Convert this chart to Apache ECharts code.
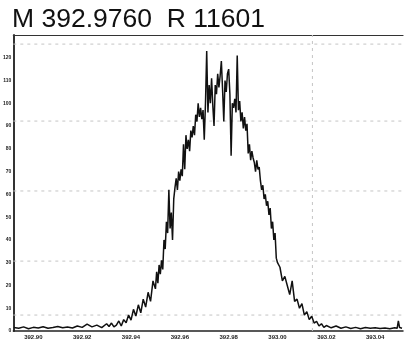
<!DOCTYPE html>
<html>
<head>
<meta charset="utf-8">
<script src="https://cdn.jsdelivr.net/npm/echarts@6/dist/echarts.min.js"></script>
<style>
  html, body { margin: 0; padding: 0; background: #fff; }
  #chart { width: 410px; height: 340px; }
</style>
</head>
<body>
<div id="chart"></div>
<script>
// m/z 取样点 与 强度
var mz = [
  392.892, 392.894, 392.896, 392.898, 392.900, 392.902, 392.904, 392.906, 392.908, 392.910,
  392.912, 392.914, 392.916, 392.918, 392.920, 392.922, 392.924, 392.926, 392.928, 392.930,
  392.931, 392.932, 392.933, 392.934, 392.935, 392.936, 392.937, 392.938, 392.939, 392.940,
  392.941, 392.942, 392.943, 392.944, 392.945, 392.946, 392.947, 392.948, 392.949, 392.950,
  392.9505, 392.951, 392.9515, 392.952, 392.9525, 392.953, 392.9535, 392.954, 392.9545, 392.955,
  392.9555, 392.956, 392.9565, 392.957, 392.9575, 392.958, 392.9585, 392.959, 392.9595, 392.960,
  392.9605, 392.961, 392.9615, 392.962, 392.9625, 392.963, 392.9635, 392.964, 392.9645, 392.965,
  392.9655, 392.966, 392.9665, 392.967, 392.9675, 392.968, 392.9685, 392.969, 392.9695, 392.970,
  392.9705, 392.971, 392.9715, 392.972, 392.9725, 392.973, 392.9735, 392.974, 392.9745, 392.975,
  392.9755, 392.976, 392.9765, 392.977, 392.9775, 392.978, 392.9785, 392.979, 392.9795, 392.980,
  392.9805, 392.981, 392.9815, 392.982, 392.9825, 392.983, 392.9835, 392.984, 392.9845, 392.985,
  392.9855, 392.986, 392.9865, 392.987, 392.9875, 392.988, 392.9885, 392.989, 392.9895, 392.990,
  392.9905, 392.991, 392.9915, 392.992, 392.9925, 392.993, 392.9935, 392.994, 392.9945, 392.995,
  392.9955, 392.996, 392.9965, 392.997, 392.9975, 392.998, 392.9985, 392.999, 392.9995, 393.000,
  393.001, 393.002, 393.003, 393.004, 393.005, 393.006, 393.007, 393.008, 393.009, 393.010,
  393.011, 393.012, 393.013, 393.014, 393.015, 393.016, 393.017, 393.018, 393.019, 393.020,
  393.022, 393.024, 393.026, 393.028, 393.030, 393.032, 393.034, 393.036, 393.038, 393.040,
  393.042, 393.044, 393.046, 393.048, 393.049, 393.0495, 393.050, 393.051
];
var intensity = [
  1.5, 1.2, 1.8, 1.0, 1.6, 1.3, 1.9, 1.2, 1.5, 2.0,
  1.4, 1.8, 1.3, 2.2, 1.6, 3.0, 1.8, 2.6, 1.5, 3.2,
  2.0, 3.5, 1.8, 2.6, 4.4, 2.2, 5.0, 3.6, 7.0, 4.8,
  9.5, 6.6, 11.5, 8.0, 14.0, 10.5, 17.0, 13.0, 22.0, 18.5,
  26, 21, 29, 25, 31, 27, 40, 36, 48, 43,
  62, 45, 52, 40, 58, 63, 67, 62, 70, 66,
  71, 68, 82, 71, 86, 80, 84, 79, 88, 85,
  90, 86, 95, 92, 100, 94, 98, 93, 97, 84,
  100, 123, 96, 108, 100, 111, 99, 90, 108, 104,
  113, 107, 112, 118.6, 106, 92, 110, 105, 113, 115,
  104, 77, 100, 98, 102, 96, 121, 97, 101, 92,
  96, 89, 94, 88, 91, 78, 82, 75, 79, 76,
  74, 70, 75, 71, 72, 66, 62, 64, 58, 60,
  55, 57, 51, 54, 45, 48, 40, 43, 32, 30,
  28, 22, 24, 20, 16, 22, 13, 14, 10, 12,
  7, 8.5, 5.0, 6.5, 3.5, 4.2, 2.2, 3.2, 1.6, 2.4,
  1.4, 2.2, 1.2, 1.8, 1.1, 1.6, 1.0, 1.5, 1.2, 1.4,
  1.1, 1.3, 1.0, 1.4, 1.2, 4.4, 1.5, 1.2
];
// 刻度
var xTicks = [392.90, 392.92, 392.94, 392.96, 392.98, 393.00, 393.02, 393.04];
var gridVals = [7, 30.7, 61.5, 92.2, 126];
var markX = [393.0143];

var chart = echarts.init(document.getElementById('chart'));

var points = [];
for (var i = 0; i < mz.length; i++) {
  points.push([mz[i], intensity[i]]);
}

// 虚线网格: 横线 + 一条竖线 (单独的系列, 不吸附到数据点)
var gridSeries = [];
gridVals.forEach(function (v) {
  gridSeries.push({
    type: 'line',
    data: [[392.8918, v], [393.0514, v]],
    showSymbol: false,
    silent: true,
    lineStyle: { color: '#c4c4c4', type: [3, 4], width: 1 }
  });
});
markX.forEach(function (v) {
  gridSeries.push({
    type: 'line',
    data: [[v, 0], [v, 130]],
    showSymbol: false,
    silent: true,
    lineStyle: { color: '#c4c4c4', type: [3, 4], width: 1 }
  });
});

option = {
  animation: false,
  title: {
    text: 'M 392.9760  R 11601',
    left: 7,
    top: 1,
    textStyle: {
      fontFamily: 'Liberation Sans',
      fontSize: 26.5,
      fontWeight: 'normal',
      color: '#111'
    }
  },
  grid: { left: 12, right: 7, top: 35, bottom: 9 },
  xAxis: [{
    type: 'value',
    min: 392.8918,
    max: 393.0514,
    axisLine: { lineStyle: { color: '#222', width: 1.5 } },
    axisTick: { show: false },
    splitLine: { show: false },
    axisLabel: {
      customValues: xTicks,
      formatter: function (v) { return v.toFixed(2); },
      fontSize: 6,
      fontWeight: 'bold',
      color: '#222',
      margin: 3
    }
  }, {
    type: 'value',
    position: 'top',
    min: 392.8918,
    max: 393.0514,
    axisLine: { show: true, lineStyle: { color: '#333', width: 1.2 } },
    axisTick: { show: false },
    axisLabel: { show: false },
    splitLine: { show: false }
  }],
  yAxis: {
    type: 'value',
    min: 0,
    max: 130,
    interval: 10,
    axisLine: { show: true, lineStyle: { color: '#333', width: 2 } },
    axisTick: { show: false },
    splitLine: { show: false },
    axisLabel: {
      formatter: function (v) { return v >= 130 ? '' : String(v); },
      fontSize: 5,
      fontWeight: 'bold',
      color: '#222',
      margin: 2
    }
  },
  series: gridSeries.concat([{
    type: 'line',
    data: points,
    showSymbol: false,
    lineStyle: { color: '#111', width: 1.5 }
  }])
};

chart.setOption(option);
</script>
</body>
</html>
